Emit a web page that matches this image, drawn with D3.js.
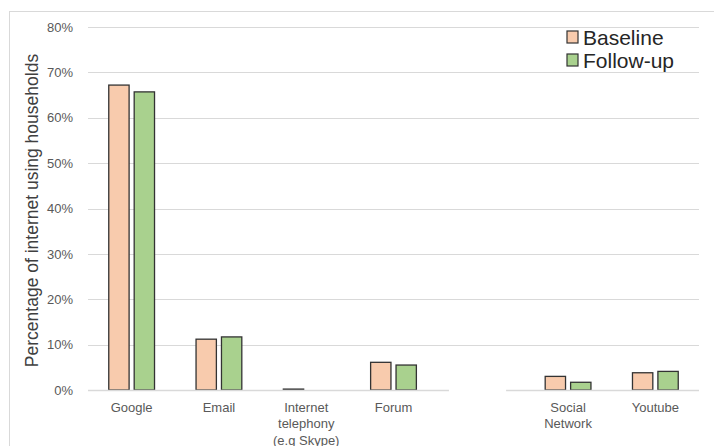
<!DOCTYPE html>
<html>
<head>
<meta charset="utf-8">
<script src="https://cdn.jsdelivr.net/npm/d3@7"></script>
<style>
  html, body { margin: 0; padding: 0; background: #fff; }
  svg { display: block; font-family: "Liberation Sans", Arial, sans-serif; }
</style>
</head>
<body>
<svg id="chart" width="714" height="446"></svg>
<script>
// ---- data ----
const categories = ["Google", "Email", "Internet\ntelephony\n(e.g Skype)", "Forum", " ", "Social\nNetwork", "Youtube"];
const seriesNames = ["Baseline", "Follow-up"];
const baseline = [67.2, 11.2, 0.2, 6.1, null, 3.0, 3.8];
const followUp = [65.7, 11.7, 0, 5.5, null, 1.7, 4.1];
const yTicks = [0, 10, 20, 30, 40, 50, 60, 70, 80];
const colors = ["#f8cbad", "#a9d18e"];

// ---- layout ----
const svg = d3.select("#chart");
const W = 714, H = 446;
const margin = { left: 88, right: 15, top: 27, bottom: 56 };
const plotRight = W - margin.right;
const plotBottom = H - margin.bottom;

// chart area border
svg.append("rect")
  .attr("x", 9.5).attr("y", 11.5)
  .attr("width", W).attr("height", H)
  .attr("fill", "none").attr("stroke", "#d9d9d9").attr("stroke-width", 1);

const x = d3.scaleBand().domain(categories).range([margin.left, plotRight]).padding(0);
const y = d3.scaleLinear().domain([0, 80]).range([plotBottom, margin.top]);

const step = x.step();
const barW = step * 0.233;
const barGap = barW * 0.25;
const groupW = 2 * barW + barGap;

// gridlines
svg.append("g").selectAll("line")
  .data(yTicks.filter(d => d > 0))
  .join("line")
  .attr("x1", margin.left).attr("x2", plotRight)
  .attr("y1", d => Math.round(y(d)) + 0.5).attr("y2", d => Math.round(y(d)) + 0.5)
  .attr("stroke", "#d9d9d9").attr("stroke-width", 1);

// y tick labels via axis
const yAxis = d3.axisLeft(y).tickValues(yTicks).tickFormat(d => d + "%").tickSize(0).tickPadding(15);
const yg = svg.append("g").attr("transform", `translate(${margin.left},0)`).call(yAxis);
yg.select(".domain").remove();
yg.selectAll("text").attr("fill", "#595959").style("font-size", "13px")
  .style("font-family", "'Liberation Sans', Arial, sans-serif");

// bars
const series = [baseline, followUp];
series.forEach((vals, si) => {
  svg.append("g").selectAll("rect")
    .data(categories.map((c, i) => ({ c, v: vals[i] })).filter(d => d.v != null && d.v > 0))
    .join("rect")
    .attr("x", d => x(d.c) + step / 2 - groupW / 2 + si * (barW + barGap))
    .attr("y", d => y(d.v))
    .attr("width", barW)
    .attr("height", d => plotBottom - y(d.v))
    .attr("fill", colors[si])
    .attr("stroke", "#333333")
    .attr("stroke-width", 1.3);
});

// x axis baseline (segments, broken at the empty category)
const segs = [];
let cur = null;
categories.forEach(c => {
  const empty = c.trim() === "";
  const x0 = x(c), x1 = x(c) + step;
  if (empty) {
    if (cur) { cur[1] = x0 + step * 0.135; segs.push(cur); }
    cur = [x0 + step * 0.79, null];
  } else {
    if (!cur) cur = [x0, null];
    cur[1] = x1;
  }
});
if (cur) segs.push(cur);
svg.append("g").selectAll("line").data(segs).join("line")
  .attr("x1", d => d[0]).attr("x2", d => d[1])
  .attr("y1", Math.round(plotBottom) + 0.5).attr("y2", Math.round(plotBottom) + 0.5)
  .attr("stroke", "#d9d9d9").attr("stroke-width", 1.3);

// category labels
const xl = svg.append("g");
categories.forEach(c => {
  const lines = c.split("\n");
  const t = xl.append("text")
    .attr("x", x(c) + step / 2)
    .attr("y", plotBottom + 22)
    .attr("text-anchor", "middle")
    .attr("fill", "#595959")
    .style("font-size", "13px");
  lines.forEach((ln, i) => {
    t.append("tspan").attr("x", x(c) + step / 2).attr("dy", i === 0 ? 0 : 16.3).text(ln);
  });
});

// y axis title
svg.append("text")
  .attr("transform", `translate(37.5,${(y(0) + y(80)) / 2 + 2}) rotate(-90)`)
  .attr("text-anchor", "middle")
  .attr("fill", "#404040")
  .style("font-size", "17.5px")
  .text("Percentage of internet using households");

// legend
const lg = svg.append("g");
seriesNames.forEach((name, i) => {
  const cy = 37 + i * 23;
  lg.append("rect")
    .attr("x", 567).attr("y", cy - 6)
    .attr("width", 11).attr("height", 12)
    .attr("fill", colors[i]).attr("stroke", "#333333").attr("stroke-width", 1.2);
  lg.append("text")
    .attr("x", 583).attr("y", cy + 7.5)
    .attr("fill", "#262626")
    .style("font-size", "21px")
    .text(name);
});
</script>
</body>
</html>
